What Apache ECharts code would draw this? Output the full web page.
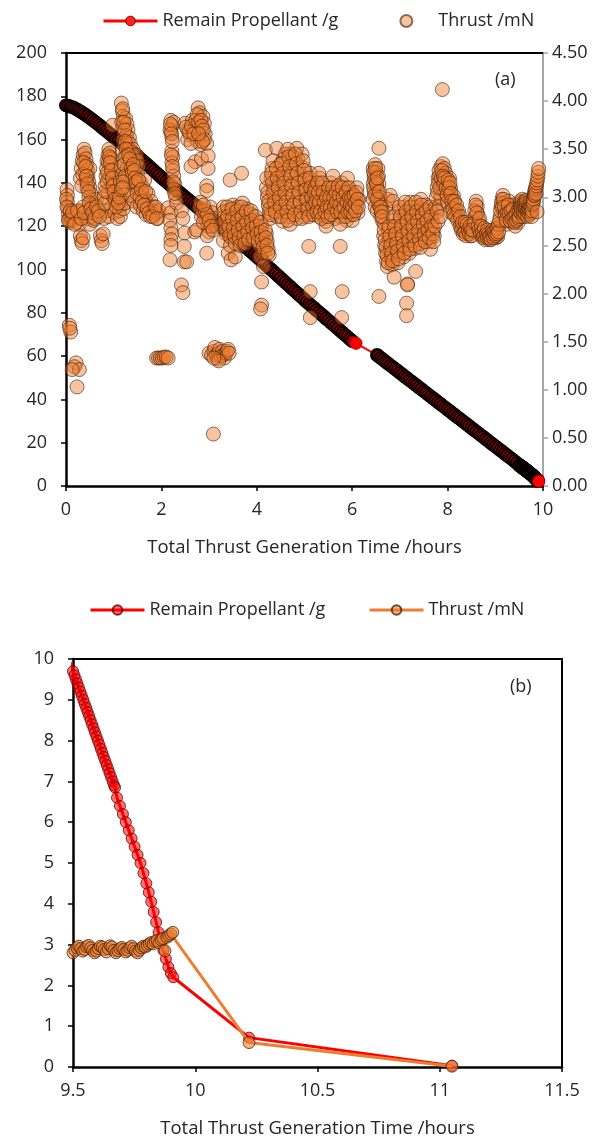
<!DOCTYPE html>
<html><head><meta charset="utf-8">
<script src="https://cdn.jsdelivr.net/npm/echarts@6/dist/echarts.min.js"></script>
<style>html,body{margin:0;padding:0;background:#fff}#c{width:611px;height:1139px}</style>
</head><body><div id="c"></div>
<script>
// ---------- Remaining propellant [hours, g] ----------
const propellantA = [[0,175.8],[0.05,175.6],[0.1,175.2],[0.15,174.8],[0.2,174.3],[0.25,173.7],[0.3,173.0],[0.35,172.3],[0.4,171.6],[0.45,170.8],[0.5,170.0],[0.55,169.2],[0.6,168.3],[0.65,167.5],[0.7,166.6],[0.75,165.7],[0.8,164.8],[0.85,163.9],[0.9,163.0],[0.95,162.1],[1.0,161.2],[1.05,160.3],[1.1,159.5],[1.15,158.6],[1.2,157.8],[1.25,156.9],[1.3,156.0],[1.35,155.1],[1.4,154.2],[1.45,153.2],[1.5,152.3],[1.55,151.3],[1.6,150.4],[1.65,149.4],[1.7,148.5],[1.75,147.5],[1.8,146.5],[1.85,145.5],[1.9,144.5],[1.95,143.5],[2.0,142.5],[2.05,141.5],[2.1,140.6],[2.15,139.7],[2.2,138.8],[2.25,137.9],[2.3,137.0],[2.35,136.1],[2.4,135.2],[2.45,134.3],[2.5,133.4],[2.55,132.5],[2.6,131.6],[2.65,130.7],[2.7,129.8],[2.75,128.9],[2.8,128.0],[2.85,127.1],[2.9,126.2],[2.95,125.3]];
const propellantB = [[3.0,124.4],[3.05,123.5],[3.1,122.6],[3.15,121.7],[3.2,120.8],[3.25,119.9],[3.3,119.0],[3.35,118.1],[3.4,117.2],[3.45,116.3],[3.5,115.4],[3.55,114.4],[3.6,113.5],[3.65,112.5],[3.7,111.6],[3.75,110.6],[3.8,109.7],[3.85,108.7],[3.9,107.8],[3.95,106.8],[4.0,105.9],[4.05,104.9],[4.1,104.0],[4.15,103.0],[4.2,102.0],[4.25,101.0],[4.3,100.0],[4.35,99.0],[4.4,98.0],[4.45,97.0],[4.5,96.0],[4.55,95.0],[4.6,94.0],[4.65,93.0],[4.7,92.0],[4.75,91.0],[4.8,90.0],[4.85,89.0],[4.9,88.0],[4.95,87.0],[5.0,86.0],[5.05,85.0],[5.1,84.1],[5.15,83.1],[5.2,82.2],[5.25,81.2],[5.3,80.3],[5.35,79.3],[5.4,78.4],[5.45,77.4],[5.5,76.5],[5.55,75.5],[5.6,74.6],[5.65,73.6],[5.7,72.7],[5.75,71.7],[5.8,70.8],[5.85,69.8],[5.9,68.9],[5.95,67.9],[6.0,67.0],[6.08,65.9]];
const propellantC = [[6.52,60.5],[6.55,60.0],[6.6,59.1],[6.65,58.3],[6.7,57.4],[6.75,56.6],[6.8,55.7],[6.85,54.9],[6.9,54.0],[6.95,53.2],[7.0,52.3],[7.05,51.5],[7.1,50.6],[7.15,49.8],[7.2,48.9],[7.25,48.1],[7.3,47.2],[7.35,46.4],[7.4,45.5],[7.45,44.7],[7.5,43.8],[7.55,43.0],[7.6,42.1],[7.65,41.3],[7.7,40.4],[7.75,39.6],[7.8,38.7],[7.85,37.9],[7.9,37.0],[7.95,36.2],[8.0,35.3],[8.05,34.5],[8.1,33.6],[8.15,32.8],[8.2,31.9],[8.25,31.1],[8.3,30.2],[8.35,29.4],[8.4,28.5],[8.45,27.7],[8.5,26.8],[8.55,26.0],[8.6,25.1],[8.65,24.3],[8.7,23.4],[8.75,22.6],[8.8,21.7],[8.85,20.9],[8.9,20.0],[8.95,19.2],[9.0,18.3],[9.05,17.5],[9.1,16.6],[9.15,15.8],[9.2,14.9],[9.25,14.1],[9.3,13.2],[9.35,12.4],[9.4,11.5],[9.45,10.6]];
const propellantD = [[9.5,9.7],[9.506,9.6],[9.512,9.5],[9.518,9.4],[9.524,9.3],[9.53,9.2],[9.536,9.1],[9.542,9.0],[9.548,8.9],[9.554,8.8],[9.56,8.7],[9.566,8.6],[9.572,8.5],[9.578,8.4],[9.584,8.3],[9.59,8.2],[9.596,8.1],[9.602,8.0],[9.608,7.9],[9.614,7.8],[9.62,7.7],[9.626,7.6],[9.632,7.5],[9.638,7.4],[9.644,7.3],[9.65,7.2],[9.656,7.1],[9.662,7.0],[9.668,6.9],[9.672,6.85],[9.68,6.6],[9.692,6.4],[9.704,6.2],[9.716,6.0],[9.728,5.8],[9.74,5.6],[9.752,5.4],[9.764,5.2],[9.776,5.0],[9.788,4.75],[9.8,4.5],[9.81,4.28],[9.82,4.05],[9.83,3.8],[9.84,3.55],[9.85,3.3],[9.86,3.08],[9.87,2.86],[9.88,2.65],[9.89,2.45],[9.9,2.3],[9.91,2.2],[10.22,0.72],[11.05,0.03]];

// ---------- Thrust [hours, mN] ----------
const thrustSeg1 = [[0.02,3.08],[0.03,3.02],[0.03,2.95],[0.04,2.89],[0.05,2.83],[0.06,2.78],[0.08,2.74],[0.1,2.8],[0.12,2.76],[0.16,2.78],[0.2,2.84],[0.22,2.74],[0.26,2.8],[0.3,2.86],[0.28,2.72],[0.3,2.6],[0.32,2.55],[0.34,2.52],[0.36,2.58],[0.3,3.2],[0.32,3.3],[0.34,3.38],[0.36,3.44],[0.38,3.5],[0.4,3.46],[0.42,3.4],[0.44,3.34],[0.45,3.28],[0.46,3.22],[0.48,3.16],[0.5,3.1],[0.52,3.04],[0.54,2.98],[0.4,3.25],[0.42,3.18],[0.44,3.1],[0.5,3.3],[0.48,3.0],[0.42,2.86],[0.46,2.78],[0.5,2.72],[0.54,2.8],[0.58,2.76],[0.6,2.86],[0.62,2.92],[0.55,2.9],[0.64,2.98],[0.66,2.82],[0.72,2.6],[0.74,2.55],[0.76,2.52],[0.78,2.62],[0.8,3.0],[0.82,3.12],[0.84,3.22],[0.85,3.3],[0.86,3.38],[0.88,3.44],[0.9,3.5],[0.92,3.46],[0.94,3.4],[0.96,3.34],[0.98,3.28],[1.0,3.2],[1.02,3.12],[1.04,3.06],[1.06,3.0],[1.08,2.95],[0.9,3.2],[0.95,3.1],[1.0,3.0],[0.88,3.05],[0.8,2.78],[0.84,2.86],[0.9,2.8],[0.96,2.9],[1.02,2.84],[1.08,2.78],[1.12,2.86],[1.15,2.92],[1.18,2.98],[1.14,2.8],[1.2,2.88],[1.24,2.94],[1.22,3.04],[0.98,3.75]];
const thrustSeg1b = [[0.01,2.98],[0.02,2.9],[0.05,2.76],[0.09,2.86],[0.14,2.84],[0.18,2.72],[0.24,2.86],[0.32,2.78],[0.36,2.9],[0.38,2.84],[0.33,3.12],[0.35,3.24],[0.37,3.36],[0.41,3.32],[0.43,3.22],[0.45,3.14],[0.47,3.06],[0.49,2.94],[0.52,2.88],[0.56,2.84],[0.6,2.78],[0.64,2.9],[0.68,2.86],[0.7,2.8],[0.82,2.94],[0.83,3.06],[0.86,3.16],[0.87,3.26],[0.89,3.36],[0.91,3.42],[0.93,3.36],[0.95,3.28],[0.97,3.2],[0.99,3.12],[1.01,3.06],[1.03,2.98],[1.05,2.9],[1.1,2.94],[1.12,3.0]];
const thrustSeg2 = [[1.16,3.98],[1.18,3.9],[1.2,3.84],[1.17,3.78],[1.19,3.72],[1.22,3.66],[1.2,3.6],[1.22,3.54],[1.18,3.48],[1.2,3.4],[1.16,3.32],[1.18,3.24],[1.14,3.16],[1.16,3.08],[1.25,3.82],[1.28,3.76],[1.3,3.7],[1.27,3.64],[1.3,3.58],[1.33,3.62],[1.35,3.55],[1.32,3.5],[1.36,3.46],[1.4,3.5],[1.42,3.42],[1.38,3.38],[1.44,3.36],[1.46,3.3],[1.48,3.44],[1.5,3.38],[1.52,3.32],[1.5,3.24],[1.28,3.3],[1.3,3.22],[1.34,3.16],[1.4,3.2],[1.44,3.12],[1.5,3.1],[1.54,3.06],[1.56,3.16],[1.6,3.02],[1.62,3.1],[1.65,3.18],[1.66,2.98],[1.7,2.94],[1.72,3.04],[1.75,2.9],[1.78,2.96],[1.8,2.86],[1.84,2.9],[1.86,2.82],[1.9,2.84],[1.92,2.78],[1.95,2.86],[1.36,3.02],[1.42,2.96],[1.48,2.9],[1.56,2.92],[1.62,2.86],[1.68,2.82]];
const thrustSeg2b = [[1.19,3.92],[1.21,3.78],[1.23,3.7],[1.24,3.58],[1.26,3.5],[1.25,3.42],[1.22,3.34],[1.24,3.22],[1.2,3.16],[1.19,3.1],[1.31,3.44],[1.34,3.4],[1.37,3.3],[1.39,3.26],[1.41,3.34],[1.43,3.28],[1.45,3.2],[1.47,3.16],[1.49,3.04],[1.52,3.18],[1.55,3.0],[1.58,3.08],[1.6,2.96],[1.64,2.92],[1.67,3.06],[1.7,2.88],[1.74,2.84],[1.77,2.8],[1.82,2.8],[1.88,2.9],[1.9,2.78]];
const thrustSeg3 = [[2.14,2.89],[2.2,2.84],[2.18,2.76],[2.2,2.68],[2.22,2.62],[2.2,2.56],[2.2,2.5],[2.18,2.35],[2.48,2.49],[2.48,2.33],[2.49,2.63],[2.7,2.64],[2.53,2.33],[2.2,3.8],[2.22,3.74],[2.2,3.68],[2.22,3.62],[2.26,3.78],[2.18,3.7],[2.22,3.48],[2.24,3.42],[2.22,3.36],[2.24,3.28],[2.26,3.22],[2.28,3.14],[2.26,3.08],[2.3,3.0],[2.32,2.94],[2.5,3.77],[2.55,3.7],[2.6,3.65],[2.55,3.6],[2.7,3.72],[2.77,3.93],[2.8,3.88],[2.87,3.84],[2.9,3.77],[2.74,3.73],[2.8,3.63],[2.76,3.58],[2.82,3.55],[2.95,3.56],[2.85,3.68],[2.92,3.66],[2.65,3.8],[2.62,3.56],[2.71,3.37],[2.84,3.4],[2.98,3.43],[2.98,3.3],[2.95,3.12],[2.95,3.07],[2.62,3.32],[3.44,3.18],[3.68,3.25],[2.74,2.66],[2.95,2.42],[2.42,2.86],[2.45,2.78],[2.8,2.89],[2.86,2.85],[2.9,2.8],[2.94,2.76],[2.98,2.7],[3.0,2.64],[2.96,2.6],[3.02,2.9],[3.06,2.84],[3.1,2.78],[3.14,2.7]];
const thrustSeg3b = [[2.19,3.76],[2.21,3.66],[2.23,3.58],[2.21,3.44],[2.23,3.32],[2.25,3.16],[2.28,3.04],[2.52,3.73],[2.58,3.68],[2.63,3.74],[2.68,3.66],[2.72,3.8],[2.75,3.86],[2.78,3.78],[2.83,3.8],[2.85,3.74],[2.88,3.7],[2.9,3.6],[2.86,3.58],[2.78,3.66],[2.84,2.8],[2.88,2.74],[2.92,2.86],[2.96,2.82],[3.0,2.76],[3.04,2.7],[3.08,2.66],[2.82,2.95],[2.88,2.92]];
const thrustSeg4 = [[3.3,2.9],[3.32,2.8],[3.34,2.7],[3.36,2.62],[3.3,2.55],[3.4,2.86],[3.42,2.76],[3.44,2.66],[3.46,2.58],[3.5,2.92],[3.52,2.82],[3.54,2.72],[3.56,2.64],[3.6,2.9],[3.62,2.8],[3.64,2.7],[3.66,2.62],[3.7,2.94],[3.72,2.84],[3.74,2.74],[3.76,2.66],[3.78,2.58],[3.8,2.88],[3.82,2.78],[3.84,2.7],[3.86,2.6],[3.9,2.82],[3.92,2.72],[3.94,2.64],[3.96,2.55],[4.0,2.76],[4.02,2.66],[4.04,2.58],[4.06,2.5],[4.1,2.7],[4.12,2.6],[4.14,2.52],[4.16,2.44],[4.2,2.62],[4.22,2.54],[4.24,2.46],[4.26,2.4],[3.4,2.42],[3.46,2.35],[3.55,2.38],[4.07,2.38],[4.14,2.28]];
const thrustSeg4b = [[3.31,2.85],[3.33,2.75],[3.35,2.66],[3.38,2.9],[3.39,2.8],[3.41,2.7],[3.43,2.6],[3.45,2.5],[3.48,2.88],[3.49,2.78],[3.51,2.68],[3.53,2.6],[3.55,2.52],[3.58,2.86],[3.59,2.76],[3.61,2.66],[3.63,2.58],[3.65,2.5],[3.68,2.9],[3.69,2.8],[3.71,2.7],[3.73,2.6],[3.75,2.52],[3.78,2.85],[3.79,2.74],[3.81,2.64],[3.83,2.56],[3.88,2.86],[3.89,2.76],[3.91,2.68],[3.93,2.58],[3.98,2.8],[3.99,2.7],[4.01,2.62],[4.03,2.54],[4.08,2.74],[4.09,2.64],[4.11,2.56],[4.13,2.48],[4.18,2.66],[4.19,2.58],[4.21,2.5],[4.23,2.42]];
const thrustSeg5 = [[4.18,3.49],[4.42,3.51],[4.84,3.51],[4.7,3.45],[4.2,3.1],[4.22,3.0],[4.24,2.92],[4.26,2.84],[4.28,2.78],[4.3,3.2],[4.32,3.3],[4.34,3.38],[4.36,3.1],[4.38,3.0],[4.4,2.9],[4.42,2.8],[4.44,3.25],[4.46,3.15],[4.48,3.05],[4.5,2.95],[4.52,2.85],[4.54,2.75],[4.56,3.4],[4.58,3.3],[4.6,3.2],[4.62,3.1],[4.64,3.0],[4.66,2.9],[4.68,2.8],[4.7,2.72],[4.72,3.35],[4.74,3.25],[4.76,3.15],[4.78,3.05],[4.8,2.95],[4.82,2.85],[4.84,2.78],[4.86,3.4],[4.88,3.3],[4.9,3.2],[4.92,3.1],[4.94,3.0],[4.96,2.9],[4.98,2.8],[5.0,3.3],[5.02,3.2],[5.04,3.1],[5.06,3.0],[5.08,2.9],[5.1,2.82],[5.12,3.25],[5.14,3.15],[5.16,3.05],[5.18,2.95],[5.2,2.85],[4.6,3.45],[4.65,3.5],[4.75,3.42],[4.95,3.45],[4.5,3.35]];
const thrustSeg5b = [[4.21,3.2],[4.23,3.05],[4.25,2.96],[4.27,2.88],[4.29,2.82],[4.31,3.25],[4.33,3.15],[4.35,3.05],[4.37,2.95],[4.39,2.85],[4.41,3.3],[4.43,3.2],[4.45,3.1],[4.47,3.0],[4.49,2.9],[4.51,2.8],[4.53,3.35],[4.55,3.25],[4.57,3.15],[4.59,3.05],[4.61,2.95],[4.63,2.85],[4.65,2.76],[4.67,3.42],[4.69,3.32],[4.71,3.22],[4.73,3.12],[4.75,3.02],[4.77,2.92],[4.79,2.82],[4.81,3.45],[4.83,3.35],[4.85,3.25],[4.87,3.15],[4.89,3.05],[4.91,2.95],[4.93,2.85],[4.95,2.78],[4.97,3.38],[4.99,3.28],[5.01,3.18],[5.03,3.08],[5.05,2.98],[5.07,2.88],[5.09,2.8],[5.11,3.2],[5.13,3.1],[5.15,3.0],[5.17,2.9],[5.19,2.82]];
const thrustSeg6 = [[5.22,3.1],[5.25,3.0],[5.28,2.9],[5.3,2.8],[5.32,3.2],[5.35,3.1],[5.38,3.0],[5.4,2.9],[5.42,2.8],[5.45,2.75],[5.48,3.05],[5.5,2.95],[5.52,2.85],[5.55,3.15],[5.58,3.05],[5.6,2.95],[5.62,2.85],[5.65,2.78],[5.68,3.1],[5.7,3.0],[5.72,2.9],[5.75,2.8],[5.78,3.15],[5.8,3.05],[5.82,2.95],[5.85,2.85],[5.88,2.76],[5.9,3.1],[5.92,3.0],[5.95,2.9],[5.98,2.82],[6.0,3.05],[6.02,2.95],[6.05,2.88],[6.08,3.0],[6.1,2.92],[6.12,2.84],[6.14,2.98],[5.3,3.25],[5.6,3.22],[5.9,3.2],[6.1,3.1],[5.45,2.7],[5.75,2.72],[6.0,2.76],[5.09,2.49],[5.75,2.49]];
const thrustSeg6b = [[5.21,3.05],[5.23,2.95],[5.26,2.85],[5.27,3.15],[5.29,3.05],[5.31,2.95],[5.33,2.85],[5.36,2.78],[5.37,3.15],[5.39,3.05],[5.41,2.95],[5.43,2.85],[5.46,3.0],[5.47,2.9],[5.49,2.8],[5.51,3.1],[5.53,3.0],[5.54,2.9],[5.56,2.82],[5.59,3.1],[5.61,3.0],[5.63,2.9],[5.66,3.05],[5.67,2.95],[5.69,2.85],[5.71,3.12],[5.73,3.02],[5.74,2.92],[5.76,2.85],[5.79,3.1],[5.81,3.0],[5.83,2.9],[5.86,2.8],[5.87,3.05],[5.89,2.95],[5.91,2.85],[5.93,3.1],[5.94,3.0],[5.96,2.92],[5.97,2.85],[5.99,3.0],[6.01,2.9],[6.03,2.82],[6.04,3.02],[6.06,2.94],[6.07,2.86],[6.09,3.05],[6.11,2.98],[6.13,2.9]];
const thrustSeg7 = [[6.56,3.51],[6.44,3.3],[6.46,3.22],[6.44,3.14],[6.46,3.06],[6.44,2.98],[6.48,3.34],[6.5,3.26],[6.5,3.18],[6.52,3.1],[6.5,3.02],[6.54,3.3],[6.55,3.22],[6.56,3.14],[6.54,3.06],[6.58,3.0],[6.48,2.9],[6.52,2.86],[6.56,2.92],[6.6,2.95],[6.62,2.9],[6.65,2.84],[6.6,2.8],[6.64,2.75],[6.68,2.72],[6.7,2.9],[6.75,2.98],[6.8,3.02],[6.85,2.96],[6.66,2.6],[6.68,2.5],[6.7,2.42],[6.72,2.34],[6.74,2.28],[6.76,2.66],[6.78,2.56],[6.8,2.46],[6.82,2.38],[6.84,2.3],[6.86,2.76],[6.88,2.68],[6.9,2.58],[6.92,2.48],[6.94,2.4],[6.96,2.32],[6.98,2.86],[7.0,2.76],[7.02,2.66],[7.04,2.56],[7.06,2.46],[7.08,2.38],[7.1,2.9],[7.12,2.8],[7.14,2.7],[7.16,2.6],[7.18,2.5],[7.2,2.42],[7.22,2.95],[7.24,2.85],[7.26,2.75],[7.28,2.65],[7.3,2.55],[7.32,2.47],[7.34,2.9],[7.36,2.8],[7.38,2.7],[7.4,2.6],[7.42,2.52],[7.44,2.98],[7.46,2.88],[7.48,2.78],[7.5,2.68],[7.52,2.58],[7.54,2.92],[7.56,2.82],[7.58,2.72],[7.6,2.62],[7.62,2.54],[7.64,2.46],[7.66,2.86],[7.68,2.76],[7.7,2.66],[7.72,2.6],[6.88,2.17],[7.16,2.1],[7.33,2.23]];
const thrustSeg7b = [[6.45,3.26],[6.45,3.1],[6.47,3.02],[6.47,3.18],[6.49,3.3],[6.51,3.14],[6.53,3.2],[6.53,2.98],[6.57,3.06],[6.59,2.9],[6.61,2.85],[6.63,2.8],[6.67,2.66],[6.69,2.56],[6.71,2.48],[6.73,2.4],[6.75,2.32],[6.77,2.7],[6.79,2.6],[6.81,2.5],[6.83,2.42],[6.85,2.34],[6.87,2.8],[6.89,2.7],[6.91,2.62],[6.93,2.52],[6.95,2.44],[6.97,2.36],[6.99,2.9],[7.01,2.8],[7.03,2.7],[7.05,2.6],[7.07,2.5],[7.09,2.42],[7.11,2.95],[7.13,2.85],[7.15,2.75],[7.17,2.65],[7.19,2.55],[7.21,2.46],[7.23,2.9],[7.25,2.8],[7.27,2.7],[7.29,2.6],[7.31,2.5],[7.33,2.95],[7.35,2.85],[7.37,2.75],[7.39,2.65],[7.41,2.56],[7.43,2.48],[7.45,2.92],[7.47,2.82],[7.49,2.72],[7.51,2.62],[7.53,2.54],[7.55,2.86],[7.57,2.76],[7.59,2.66],[7.61,2.58],[7.63,2.9],[7.65,2.8],[7.67,2.7],[7.69,2.62],[7.71,2.54],[7.73,2.7],[7.75,2.9]];
const thrustSeg8 = [[7.89,4.12],[7.76,3.0],[7.78,3.1],[7.8,3.2],[7.82,3.28],[7.86,3.32],[7.9,3.35],[7.93,3.3],[7.96,3.25],[7.98,3.18],[8.0,3.12],[8.02,3.05],[8.04,3.2],[8.06,3.1],[8.08,3.0],[8.1,2.92],[8.12,3.02],[8.14,2.95],[8.16,2.88],[8.2,2.85],[8.22,2.8],[8.25,2.76],[8.28,2.72],[7.82,2.9],[7.86,3.0],[7.9,3.1],[7.95,3.05],[8.0,2.95],[8.05,2.85],[7.78,2.85],[7.8,2.75],[7.85,2.8],[8.3,2.7],[8.32,2.66],[8.35,2.7],[8.38,2.64],[8.4,2.68],[8.42,2.62],[8.45,2.66],[8.48,2.6],[8.5,2.64],[8.52,2.72],[8.55,2.68],[8.6,2.96],[8.62,2.9],[8.63,2.83],[8.65,2.76],[8.58,2.8],[8.68,2.7],[8.7,2.64],[8.72,2.6],[8.75,2.66],[8.78,2.62],[8.8,2.58],[8.82,2.64],[8.85,2.6],[8.88,2.56],[8.9,2.62],[8.92,2.58],[8.95,2.64],[8.98,2.6],[9.0,2.66],[9.02,2.58],[9.05,2.59],[9.08,2.7],[9.1,2.8],[9.12,2.9],[9.14,2.98],[9.16,3.02],[9.18,2.94],[9.2,2.86],[9.22,2.78],[9.24,2.72],[9.26,2.9],[9.28,2.96],[9.3,2.88],[9.32,2.8],[9.34,2.74],[9.36,2.92],[9.38,2.84],[9.4,2.76],[9.42,2.7],[9.44,2.88],[9.46,2.8],[9.48,2.74]];
const thrustSeg8b = [[7.79,3.05],[7.81,3.15],[7.83,3.22],[7.84,3.1],[7.87,3.2],[7.88,3.28],[7.91,3.22],[7.92,3.15],[7.94,3.2],[7.97,3.1],[7.99,3.02],[8.01,3.18],[8.03,3.1],[8.05,3.15],[8.07,3.04],[8.09,2.96],[8.11,2.88],[8.13,2.82],[8.15,2.96],[8.17,2.8],[8.19,2.92],[8.21,2.76],[8.23,2.86],[8.26,2.7],[8.27,2.8],[8.29,2.66],[8.31,2.74],[8.33,2.62],[8.36,2.64],[8.37,2.74],[8.39,2.6],[8.41,2.72],[8.43,2.66],[8.46,2.62],[8.47,2.7],[8.49,2.66],[8.51,2.6],[8.53,2.66],[8.56,2.74],[8.57,2.86],[8.59,2.92],[8.61,2.84],[8.64,2.7],[8.66,2.66],[8.67,2.78],[8.69,2.62],[8.71,2.7],[8.73,2.64],[8.74,2.58],[8.76,2.6],[8.77,2.68],[8.79,2.56],[8.81,2.62],[8.83,2.58],[8.84,2.66],[8.86,2.62],[8.87,2.58],[8.89,2.6],[8.91,2.56],[8.93,2.62],[8.94,2.66],[8.96,2.58],[8.97,2.64],[8.99,2.62],[9.01,2.6],[9.03,2.68],[9.04,2.62],[9.06,2.72],[9.07,2.64],[9.09,2.76],[9.11,2.86],[9.13,2.94],[9.15,2.9],[9.17,2.98],[9.19,2.9],[9.21,2.82],[9.23,2.76],[9.25,2.84],[9.27,2.92],[9.29,2.84],[9.31,2.76],[9.33,2.86],[9.35,2.78],[9.37,2.88],[9.39,2.8],[9.41,2.74],[9.43,2.82],[9.45,2.76],[9.47,2.86],[9.49,2.78]];
const thrustLow = [[0.07,1.67],[0.1,1.6],[0.08,1.64],[0.21,1.28],[0.18,1.24],[0.28,1.21],[0.13,1.21],[0.23,1.03],[1.9,1.33],[1.94,1.33],[1.98,1.33],[2.02,1.33],[2.06,1.34],[2.1,1.34],[2.14,1.33],[3.0,1.38],[3.05,1.36],[3.1,1.4],[3.12,1.44],[3.15,1.36],[3.18,1.32],[3.2,1.38],[3.22,1.42],[3.25,1.35],[3.28,1.4],[3.3,1.36],[3.32,1.33],[3.35,1.38],[3.38,1.4],[3.4,1.42],[3.42,1.38],[3.2,1.3],[3.1,1.33],[3.09,0.54],[2.42,2.09],[2.45,2.01],[4.1,2.12],[4.1,1.88],[4.08,1.84],[5.12,2.02],[5.79,2.02],[6.56,1.97],[7.16,2.09],[7.14,1.9],[7.14,1.77],[5.12,1.75],[5.78,1.75]];
const thrustTail = [[9.5,2.8],[9.508,2.86],[9.516,2.92],[9.524,2.96],[9.532,2.9],[9.54,2.84],[9.548,2.88],[9.556,2.95],[9.564,2.98],[9.572,2.92],[9.58,2.86],[9.588,2.8],[9.596,2.84],[9.604,2.9],[9.612,2.96],[9.62,2.94],[9.628,2.88],[9.636,2.82],[9.644,2.9],[9.652,2.97],[9.66,2.94],[9.668,2.86],[9.676,2.8],[9.684,2.85],[9.692,2.9],[9.7,2.93],[9.708,2.88],[9.716,2.82],[9.724,2.86],[9.732,2.92],[9.74,2.96],[9.748,2.9],[9.756,2.84],[9.764,2.8],[9.772,2.86],[9.78,2.92],[9.788,2.96],[9.796,2.94],[9.804,2.98],[9.812,3.02],[9.82,3.05],[9.828,3.02],[9.836,3.08],[9.844,3.1],[9.852,3.04],[9.86,3.12],[9.868,3.15],[9.876,2.85],[9.884,3.18],[9.892,3.22],[9.9,3.26],[9.908,3.3]];
const thrustEnd = [[10.22,0.6],[11.05,0.02]];

const xTicksA = [0, 10, 2], yTicksA = [0, 200, 20], yTicksA2 = [0, 4.5, 0.5];
const xTicksB = [9.5, 11.5, 0.5], yTicksB = [0, 10, 1];

const propellantAll = propellantA.concat(propellantB, propellantC, propellantD);
const thrustScatter = [].concat(thrustSeg1, thrustSeg1b, thrustSeg2, thrustSeg2b, thrustSeg3, thrustSeg3b,
  thrustSeg4, thrustSeg4b, thrustSeg5, thrustSeg5b, thrustSeg6, thrustSeg6b, thrustSeg7, thrustSeg7b,
  thrustSeg8, thrustSeg8b, thrustLow, thrustTail);
const thrustLine = thrustTail.concat(thrustEnd);

// In (a) the points that stand alone (large time gap after them) are seen bright red
const propellantStyledA = propellantAll.map((p, i) => {
  const next = propellantAll[i + 1];
  if (next && next[0] - p[0] > 0.2) {
    return { value: p, itemStyle: { color: '#ff0000', borderColor: '#c00000', borderWidth: 1 } };
  }
  return p;
});

const FONT = 'Open Sans';
const TXT = '#262626';
const FS = 18;
const ORANGE_FILL = 'rgba(237,125,49,0.58)';
const ORANGE_EDGE = 'rgba(60,30,8,0.75)';
const RED_LEGEND = { color: '#ff2020', borderColor: '#900000', borderWidth: 1 };

function xAxisBottom(grid, t) {
  return {
    type: 'value', gridIndex: grid, position: 'bottom', min: t[0], max: t[1], interval: t[2],
    axisLine: { show: true, onZero: false, lineStyle: { color: '#000', width: 2.5 } },
    axisTick: { show: true, inside: false, length: 5, lineStyle: { color: '#000', width: 1.5 } },
    axisLabel: { color: TXT, fontFamily: FONT, fontSize: FS, margin: 15 },
    splitLine: { show: false },
    name: 'Total Thrust Generation Time /hours', nameLocation: 'middle', nameGap: 52,
    nameTextStyle: { color: TXT, fontFamily: FONT, fontSize: 18.5 }
  };
}
function xAxisTop(grid, t) {
  return { type: 'value', gridIndex: grid, position: 'top', min: t[0], max: t[1], interval: t[2],
    axisLine: { show: true, onZero: false, lineStyle: { color: '#000', width: 2 } },
    axisTick: { show: false }, axisLabel: { show: false }, splitLine: { show: false } };
}
function yAxisLeft(grid, t, margin) {
  return { type: 'value', gridIndex: grid, position: 'left', min: t[0], max: t[1], interval: t[2],
    axisLine: { show: true, onZero: false, lineStyle: { color: '#000', width: 2.5 } },
    axisTick: { show: true, length: 5, lineStyle: { color: '#000', width: 1.5 } },
    axisLabel: { color: TXT, fontFamily: FONT, fontSize: FS, margin: margin },
    splitLine: { show: false } };
}

const option = {
  animation: false,
  backgroundColor: '#fff',
  grid: [
    { left: 66, top: 53, width: 477, height: 433 },
    { left: 73, top: 659, width: 489, height: 409 }
  ],
  legend: [
    { left: 97, top: 7, itemWidth: 54, itemHeight: 12, itemGap: 61,
      textStyle: { color: TXT, fontFamily: FONT, fontSize: FS },
      data: [{ name: 'Remain Propellant /g', itemStyle: RED_LEGEND, lineStyle: { color: '#ff0000', width: 3 } }, 'Thrust /mN'] },
    { left: 84, top: 596, itemWidth: 54, itemHeight: 12, itemGap: 38,
      textStyle: { color: TXT, fontFamily: FONT, fontSize: FS },
      data: [{ name: 'Remain Propellant /g ', lineStyle: { width: 3 } }, { name: 'Thrust /mN ', lineStyle: { width: 3 } }] }
  ],
  xAxis: [ xAxisBottom(0, xTicksA), xAxisTop(0, xTicksA), xAxisBottom(1, xTicksB), xAxisTop(1, xTicksB) ],
  yAxis: [
    yAxisLeft(0, yTicksA, 19),
    { type: 'value', gridIndex: 0, position: 'right', min: yTicksA2[0], max: yTicksA2[1], interval: yTicksA2[2],
      axisLine: { show: true, onZero: false, lineStyle: { color: '#a6a6a6', width: 2 } },
      axisTick: { show: true, length: 5, lineStyle: { color: '#a6a6a6', width: 1.5 } },
      axisLabel: { color: TXT, fontFamily: FONT, fontSize: FS, margin: 9, formatter: v => v.toFixed(2) },
      splitLine: { show: false } },
    yAxisLeft(1, yTicksB, 19),
    { type: 'value', gridIndex: 1, position: 'right', min: yTicksB[0], max: yTicksB[1], interval: yTicksB[2],
      axisLine: { show: true, onZero: false, lineStyle: { color: '#000', width: 2 } },
      axisTick: { show: false }, axisLabel: { show: false }, splitLine: { show: false } }
  ],
  graphic: [
    { type: 'text', left: 495, top: 71, style: { text: '(a)', fill: TXT, font: '18px "Open Sans"' } },
    { type: 'text', left: 510, top: 678, style: { text: '(b)', fill: TXT, font: '18px "Open Sans"' } }
  ],
  series: [
    { name: 'Remain Propellant /g', type: 'line', xAxisIndex: 0, yAxisIndex: 0, data: propellantStyledA,
      symbol: 'circle', symbolSize: 12, clip: true, z: 2,
      lineStyle: { color: '#ff0000', width: 2 },
      itemStyle: { color: '#a00000', borderColor: '#0a0000', borderWidth: 2 } },
    { name: 'Thrust /mN', type: 'scatter', xAxisIndex: 0, yAxisIndex: 1, data: thrustScatter,
      symbol: 'circle', symbolSize: 14, clip: true, z: 3,
      itemStyle: { color: ORANGE_FILL, borderColor: ORANGE_EDGE, borderWidth: 1 } },
    { name: 'Remain Propellant /g ', type: 'line', xAxisIndex: 2, yAxisIndex: 2, data: propellantAll,
      symbol: 'circle', symbolSize: 11, clip: true, z: 2,
      lineStyle: { color: '#ff0000', width: 3 },
      itemStyle: { color: 'rgba(255,0,0,0.55)', borderColor: 'rgba(110,0,0,0.8)', borderWidth: 1 } },
    { name: 'Thrust /mN ', type: 'line', xAxisIndex: 2, yAxisIndex: 2, data: thrustLine,
      symbol: 'circle', symbolSize: 12, clip: true, z: 3,
      lineStyle: { color: '#ED7D31', width: 3 },
      itemStyle: { color: ORANGE_FILL, borderColor: ORANGE_EDGE, borderWidth: 1 } }
  ]
};
const chart = echarts.init(document.getElementById('c'), null, { renderer: 'canvas' });
chart.setOption(option);
</script></body></html>
